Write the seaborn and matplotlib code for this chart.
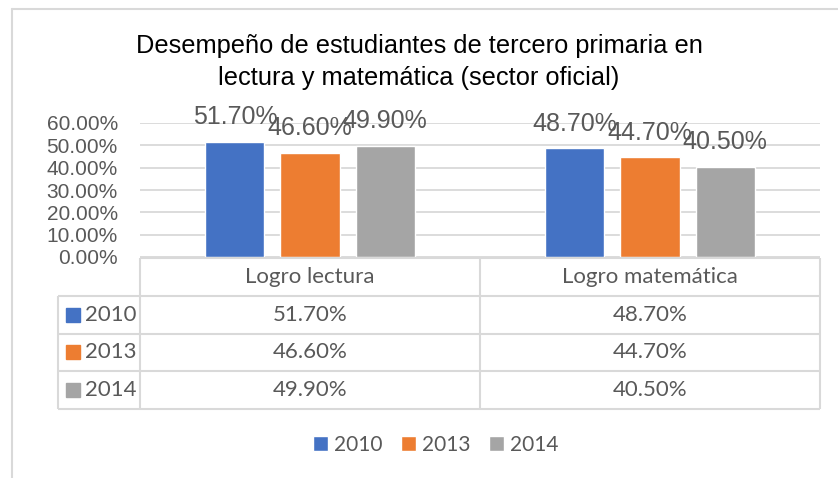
import matplotlib
matplotlib.use("Agg")
import matplotlib.pyplot as plt
import matplotlib.ticker as mtick
from matplotlib.lines import Line2D
from matplotlib.patches import Patch
import pandas as pd
import seaborn as sns

# data
categorias = ["Logro lectura", "Logro matemática"]
anios = ["2010", "2013", "2014"]
logro_2010 = [0.517, 0.487]
logro_2013 = [0.466, 0.447]
logro_2014 = [0.499, 0.405]
colores = ["#4472C4", "#ED7D31", "#A5A5A5"]
y_ticks = [0.0, 0.1, 0.2, 0.3, 0.4, 0.5, 0.6]
titulo = ["Desempeño de estudiantes de tercero primaria en",
          "lectura y matemática (sector oficial)"]

series = [logro_2010, logro_2013, logro_2014]
df = pd.DataFrame({
    "categoria": [c for s in series for c in categorias],
    "anio": [a for a, s in zip(anios, series) for _ in s],
    "valor": [v for s in series for v in s],
})

sns.set_theme(style="white")
plt.rcParams["font.family"] = ["Liberation Sans", "DejaVu Sans"]

W, H = 838, 478
GRIS = "#D9D9D9"
TEXTO = "#595959"
fig = plt.figure(figsize=(W / 100, H / 100), dpi=100)


def fx(px):
    return px / W


def fy(py):
    return 1 - py / H


# chart frame (left and top edges only, the rest is cut off)
fig.add_artist(Line2D([fx(12), fx(12)], [fy(9), 0], color=GRIS, lw=1.5))
fig.add_artist(Line2D([fx(12), 1], [fy(9), fy(9)], color=GRIS, lw=1.5))

# title
fig.text(fx(419), fy(53), titulo[0], ha="center", va="baseline", fontsize=18.3, color="black")
fig.text(fx(419), fy(85), titulo[1], ha="center", va="baseline", fontsize=18.3, color="black")

# bars
ax = fig.add_axes([fx(140), fy(257), fx(820) - fx(140), fy(123) - fy(257)])
sns.barplot(data=df, x="categoria", y="valor", hue="anio", palette=colores,
            width=0.662, gap=0.213, saturation=1, errorbar=None, legend=False, ax=ax)
ax.set_xlim(-0.5, 1.5)
ax.set_ylim(0, 0.6)
ax.set_yticks(y_ticks)
ax.yaxis.set_major_formatter(mtick.PercentFormatter(1.0, decimals=2))
ax.set_xticks([])
ax.set_xlabel("")
ax.set_ylabel("")
ax.grid(axis="y", color=GRIS, lw=1.3)
ax.set_axisbelow(True)
sns.despine(ax=ax, left=True, bottom=True)
ax.tick_params(axis="y", length=0, pad=16, labelsize=15, labelcolor=TEXTO)

for cont in ax.containers:
    ax.bar_label(cont, labels=[f"{v:.2%}" for v in cont.datavalues],
                 padding=9, fontsize=18, color=TEXTO)

# data table under the axis
x_izq = -0.5 - 82 / 340
tax = fig.add_axes([fx(58), fy(409), fx(820) - fx(58), fy(258) - fy(409)])
tax.set_xlim(x_izq, 1.5)
tax.set_ylim(4, 0)
tax.axis("off")
tax.hlines(0, -0.5, 1.5, color=GRIS, lw=1.5, clip_on=False)
tax.hlines([1, 2, 3, 4], x_izq, 1.5, color=GRIS, lw=1.5, clip_on=False)
tax.vlines([-0.5, 0.5, 1.5], 0, 4, color=GRIS, lw=1.5, clip_on=False)
tax.vlines(x_izq, 1, 4, color=GRIS, lw=1.5, clip_on=False)

tabla_font = dict(family=["Lato", "DejaVu Sans"], fontsize=16, color=TEXTO)
for i, c in enumerate(categorias):
    tax.text(i, 0.5, c, ha="center", va="center", **tabla_font)
for r, (a, s, col) in enumerate(zip(anios, series, colores)):
    yc = r + 1.5
    tax.plot(-0.5 - 67 / 340, yc, marker="s", ms=10, color=col, clip_on=False)
    tax.text(-0.5 - 55 / 340, yc, a, ha="left", va="center", **tabla_font)
    for i, v in enumerate(s):
        tax.text(i, yc, f"{v:.2%}", ha="center", va="center", **tabla_font)

# legend
handles = [Patch(facecolor=c, label=a) for a, c in zip(anios, colores)]
fig.legend(handles=handles, loc="center", bbox_to_anchor=(fx(436), fy(445)), ncol=3,
           frameon=False, prop={"family": "Lato", "size": 15}, labelcolor=TEXTO,
           handlelength=0.7, handleheight=0.7, handletextpad=0.3, columnspacing=0.9)

fig.savefig("out.png", dpi=100)
